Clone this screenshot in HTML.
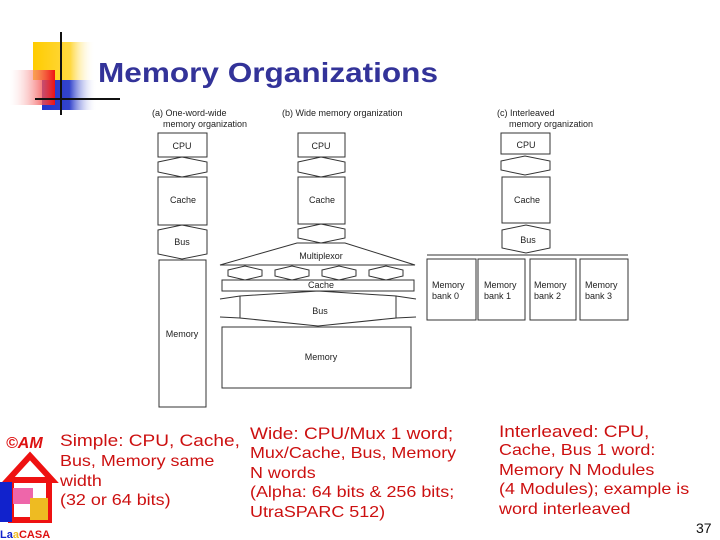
<!DOCTYPE html>
<html><head><meta charset="utf-8"><style>
body{margin:0;width:720px;height:540px;background:#fff;overflow:hidden;position:relative;font-family:"Liberation Sans",sans-serif}
.t{position:absolute;color:#cc1010;font-size:16px;line-height:19.5px;transform:scaleX(1.12);transform-origin:0 0;white-space:nowrap}
</style></head><body>
<svg width="720" height="540" style="position:absolute;left:0;top:0" font-family="Liberation Sans, sans-serif">
<defs>
<linearGradient id="gy" x1="0" x2="1"><stop offset="0" stop-color="#ffcc00"/><stop offset="0.6" stop-color="#ffd840"/><stop offset="1" stop-color="#fff" stop-opacity="0"/></linearGradient>
<linearGradient id="gb" x1="0" x2="1"><stop offset="0" stop-color="#2233cc"/><stop offset="0.5" stop-color="#3344cc"/><stop offset="1" stop-color="#fff" stop-opacity="0"/></linearGradient>
<linearGradient id="gr" x1="1" x2="0"><stop offset="0" stop-color="#ee1111"/><stop offset="1" stop-color="#fff" stop-opacity="0.2"/></linearGradient>
</defs>
<rect x="33" y="42" width="62" height="38" fill="url(#gy)"/>
<rect x="42" y="80" width="55" height="30" fill="url(#gb)"/>
<rect x="10" y="70" width="45" height="35" fill="url(#gr)"/>
<line x1="61" y1="32" x2="61" y2="115" stroke="#111" stroke-width="2"/>
<line x1="35" y1="99" x2="120" y2="99" stroke="#111" stroke-width="2"/>
<text x="98" y="82" font-size="28" font-weight="bold" fill="#333399" textLength="340" lengthAdjust="spacingAndGlyphs">Memory Organizations</text>
<g font-size="9" fill="#222">
<text x="152" y="116">(a) One-word-wide</text><text x="163" y="127">memory organization</text>
<text x="282" y="116">(b) Wide memory organization</text>
<text x="497" y="116">(c) Interleaved</text><text x="509" y="127">memory organization</text>
</g>
<g fill="none" stroke="#333" stroke-width="1">
<rect x="158" y="133" width="49" height="24"/>
<polygon points="158,162 182,157 207,162 207,172 182,177 158,172"/>
<rect x="158" y="177" width="49" height="48"/>
<polygon points="158,230 182,225 207,230 207,254 182,259 158,254"/>
<rect x="159" y="260" width="47" height="147"/>
<rect x="298" y="133" width="47" height="24"/>
<polygon points="298,162 321,157 345,162 345,172 321,177 298,172"/>
<rect x="298" y="177" width="47" height="47"/>
<polygon points="298,229 321,224 345,229 345,238 321,243 298,238"/>
<polygon points="297,243 345,243 415,265 220,265"/>
<polygon points="228,270 245,266 262,270 262,276 245,280 228,276"/>
<polygon points="275,270 292,266 309,270 309,276 292,280 275,276"/>
<polygon points="322,270 339,266 356,270 356,276 339,280 322,276"/>
<polygon points="369,270 386,266 403,270 403,276 386,280 369,276"/>
<rect x="222" y="280" width="192" height="11"/>
<polygon points="240,296 318,291 396,296 396,318 318,326 240,318"/>
<line x1="220" y1="299" x2="240" y2="296"/><line x1="220" y1="317" x2="240" y2="318"/>
<line x1="396" y1="296" x2="416" y2="299"/><line x1="396" y1="318" x2="416" y2="317"/>
<rect x="222" y="327" width="189" height="61"/>
<rect x="501" y="133" width="49" height="21"/>
<polygon points="501,161 525,156 550,161 550,170 525,175 501,170"/>
<rect x="502" y="177" width="48" height="46"/>
<polygon points="502,230 526,225 550,230 550,248 526,253 502,248"/>
<line x1="427" y1="255" x2="628" y2="255"/>
<rect x="427" y="259" width="49" height="61"/>
<rect x="478" y="259" width="47" height="61"/>
<rect x="530" y="259" width="46" height="61"/>
<rect x="580" y="259" width="48" height="61"/>
</g>
<g font-size="9" fill="#222" text-anchor="middle">
<text x="182" y="149">CPU</text><text x="183" y="203">Cache</text><text x="182" y="245">Bus</text><text x="182" y="337">Memory</text>
<text x="321" y="149">CPU</text><text x="322" y="203">Cache</text><text x="321" y="259">Multiplexor</text><text x="321" y="288">Cache</text><text x="320" y="314">Bus</text><text x="321" y="360">Memory</text>
<text x="526" y="148">CPU</text><text x="527" y="203">Cache</text><text x="528" y="243">Bus</text>
</g>
<g font-size="9" fill="#222">
<text x="432" y="288">Memory</text><text x="432" y="299">bank 0</text>
<text x="484" y="288">Memory</text><text x="484" y="299">bank 1</text>
<text x="534" y="288">Memory</text><text x="534" y="299">bank 2</text>
<text x="585" y="288">Memory</text><text x="585" y="299">bank 3</text>
</g>
<text x="6" y="448" font-size="16" font-style="italic" font-weight="bold" fill="#dd1111">©AM</text>
<polygon points="8,480 30,456 52,480" fill="none" stroke="#ee1111" stroke-width="6"/>
<rect x="11" y="480" width="38" height="40" fill="none" stroke="#ee1111" stroke-width="6"/>
<rect x="0" y="482" width="12" height="40" fill="#1122cc"/>
<rect x="13" y="488" width="20" height="16" fill="#ee66aa"/>
<rect x="30" y="498" width="18" height="22" fill="#eebb22"/>
<text x="0" y="538" font-size="11" font-weight="bold" fill="#1122cc">La<tspan fill="#eebb22">a</tspan><tspan fill="#dd1111">CASA</tspan></text>
</svg>
<div class="t" style="left:60px;top:431px;font-size:17px">Simple: CPU, Cache,</div>
<div class="t" style="left:60px;top:452px">Bus, Memory same<br>width<br>(32 or 64 bits)</div>
<div class="t" style="left:250px;top:424px;font-size:17px">Wide: CPU/Mux 1 word;</div>
<div class="t" style="left:250px;top:444px">Mux/Cache, Bus, Memory<br>N words<br>(Alpha: 64 bits &amp; 256 bits;<br>UtraSPARC 512)</div>
<div class="t" style="left:499px;top:422px;font-size:17px">Interleaved: CPU,</div>
<div class="t" style="left:499px;top:441px">Cache, Bus 1 word:<br>Memory N Modules<br>(4 Modules); example is<br>word interleaved</div>
<div style="position:absolute;left:696px;top:520px;font-size:14px;color:#111">37</div>
</body></html>
